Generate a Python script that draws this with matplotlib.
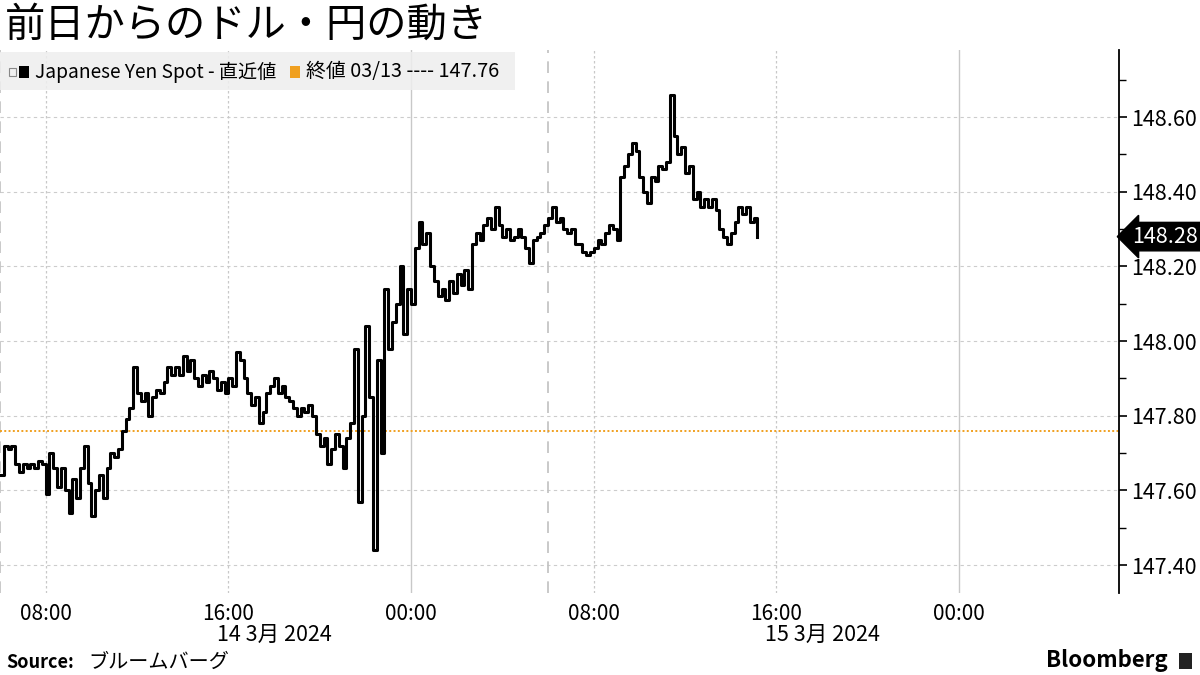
import numpy as np
import pandas as pd
import matplotlib
matplotlib.use('Agg')
import matplotlib.pyplot as plt
import matplotlib.dates as mdates
from matplotlib.patches import Rectangle
from matplotlib.transforms import blended_transform_factory

plt.rcParams['font.family'] = ['Noto Sans CJK JP', 'DejaVu Sans']

# USD/JPY spot, 10 minute steps from 2024-03-14 06:00
yen = [
    147.64, 147.72, 147.71, 147.72, 147.67, 147.65, 147.67, 147.66, 147.67, 147.66,
    147.68, 147.67, 147.59, 147.70, 147.66, 147.61, 147.66, 147.60, 147.54, 147.63,
    147.58, 147.66, 147.72, 147.62, 147.53, 147.60, 147.64, 147.58, 147.66, 147.70,
    147.69, 147.71, 147.76, 147.79, 147.82, 147.93, 147.86, 147.84, 147.86, 147.80,
    147.85, 147.87, 147.86, 147.89, 147.93, 147.91, 147.93, 147.91, 147.96, 147.92,
    147.95, 147.90, 147.88, 147.91, 147.89, 147.92, 147.90, 147.87, 147.89, 147.86,
    147.90, 147.88, 147.97, 147.95, 147.90, 147.86, 147.83, 147.85, 147.78, 147.81,
    147.86, 147.88, 147.90, 147.86, 147.88, 147.85, 147.84, 147.82, 147.80, 147.82,
    147.81, 147.83, 147.80, 147.75, 147.72, 147.74, 147.67, 147.71, 147.75, 147.72,
    147.66, 147.74, 147.78, 147.98, 147.57, 147.80, 148.04, 147.85, 147.44, 147.95,
    147.70, 148.14, 147.98, 148.05, 148.10, 148.20, 148.02, 148.14, 148.10, 148.25,
    148.32, 148.26, 148.29, 148.20, 148.16, 148.12, 148.14, 148.11, 148.16, 148.13,
    148.18, 148.15, 148.19, 148.14, 148.26, 148.29, 148.27, 148.31, 148.33, 148.30,
    148.36, 148.31, 148.28, 148.30, 148.27, 148.28, 148.30, 148.28, 148.25, 148.21,
    148.27, 148.28, 148.29, 148.31, 148.33, 148.36, 148.32, 148.33, 148.30, 148.29,
    148.30, 148.26, 148.26, 148.24, 148.23, 148.24, 148.25, 148.27, 148.26, 148.29,
    148.31, 148.30, 148.27, 148.44, 148.47, 148.50, 148.53, 148.51, 148.44, 148.40,
    148.37, 148.44, 148.43, 148.47, 148.46, 148.48, 148.66, 148.55, 148.50, 148.52,
    148.45, 148.47, 148.38, 148.40, 148.36, 148.38, 148.36, 148.38, 148.35, 148.30,
    148.28, 148.26, 148.29, 148.32, 148.36, 148.34, 148.36, 148.32, 148.33, 148.28,
]
prev_close = 147.76
yticks = [147.40, 147.60, 147.80, 148.00, 148.20, 148.40, 148.60]
time_ticks = pd.date_range('2024-03-14 08:00', '2024-03-16 00:00', freq='8h')
session_lines = pd.to_datetime(['2024-03-14 06:00', '2024-03-15 06:00'])
date_labels = ['14 3月 2024', '15 3月 2024']
date_pos = pd.to_datetime(['2024-03-14 18:00', '2024-03-15 18:00'])

times = pd.date_range('2024-03-14 06:00', periods=len(yen), freq='10min')

fig = plt.figure(figsize=(12, 6.75), dpi=100)
ax = fig.add_axes([0, 1 - 593 / 675, 1119 / 1200, 543 / 675])

for t in time_ticks:
    if t.hour == 0:
        ax.axvline(t, color='#c8c8c8', lw=1.0, zorder=1)
    else:
        ax.axvline(t, color='#c8c8c8', lw=0.9, ls=(0, (2, 2)), zorder=1)
for t in session_lines:
    ax.axvline(t, color='#c0c0c0', lw=1.2, ls=(0, (7, 5)), zorder=1)
ax.grid(axis='y', ls=(0, (3, 3)), color='#cccccc', lw=0.8)
ax.set_axisbelow(True)

ax.axhline(prev_close, color='#f0a020', ls=(0, (1, 1.2)), lw=1.4, zorder=2)
ax.step(times, yen, where='post', color='black', lw=2.2, zorder=3)

ax.set_xlim(pd.Timestamp('2024-03-14 06:00'), pd.Timestamp('2024-03-16 07:00'))
ax.set_ylim(147.325, 148.78)

ax.yaxis.tick_right()
ax.set_yticks(yticks)
ax.set_yticklabels([f'{v:.2f}' for v in yticks])
ax.set_yticks(np.arange(147.5, 148.8, 0.2), minor=True)
ax.tick_params(axis='y', which='major', length=6, width=1.2, labelsize=15.5, pad=3)
ax.tick_params(axis='y', which='minor', length=5, width=1.0)

ax.set_xticks(time_ticks)
ax.xaxis.set_major_formatter(mdates.DateFormatter('%H:%M'))
ax.tick_params(axis='x', length=0, labelsize=15, pad=7)

for s in ['left', 'top', 'bottom']:
    ax.spines[s].set_visible(False)
ax.spines['right'].set_linewidth(1.3)

tr = blended_transform_factory(ax.transData, ax.transAxes)
for p, lab in zip(date_pos, date_labels):
    ax.text(p, -0.078, lab, transform=tr, ha='center', va='center', fontsize=15.5)

# last price tag
tr2 = blended_transform_factory(ax.transAxes, ax.transData)
ax.text(1.012, yen[-1], f'{yen[-1]:.2f}', transform=tr2, ha='left', va='center',
        color='white', fontsize=15.5,
        bbox=dict(boxstyle='larrow,pad=0.15', fc='black', ec='black'), clip_on=False)

# title
fig.text(5 / 1200, 1 - 25 / 675, '前日からのドル・円の動き', fontsize=29, va='center', ha='left')

# legend box
fig.patches.append(Rectangle((0, 1 - 90 / 675), 515 / 1200, 38 / 675, transform=fig.transFigure,
                             fc='#eeeeee', alpha=0.85, ec='none', zorder=5))
fig.patches.append(Rectangle((9 / 1200, 1 - 76 / 675), 7 / 1200, 8 / 675, transform=fig.transFigure,
                             fc='none', ec='#888888', lw=0.8, zorder=6))
fig.patches.append(Rectangle((19 / 1200, 1 - 78 / 675), 10 / 1200, 12 / 675, transform=fig.transFigure,
                             fc='black', ec='none', zorder=6))
fig.text(35 / 1200, 1 - 72 / 675, 'Japanese Yen Spot - 直近値', fontsize=13.8, va='center', zorder=6)
fig.patches.append(Rectangle((290 / 1200, 1 - 78 / 675), 10 / 1200, 12 / 675, transform=fig.transFigure,
                             fc='#f0a020', ec='none', zorder=6))
fig.text(306 / 1200, 1 - 72 / 675, '終値 03/13 ---- 147.76', fontsize=14.3, va='center', zorder=6)

# footer
fig.text(6 / 1200, 1 - 662 / 675, 'Source:', fontsize=13, fontweight='bold', va='center')
fig.text(88 / 1200, 1 - 662 / 675, 'ブルームバーグ', fontsize=14.5, va='center')
fig.text(1168 / 1200, 1 - 661 / 675, 'Bloomberg', fontsize=16, fontweight='bold', va='center', ha='right')
fig.patches.append(Rectangle((1179 / 1200, 1 - 669 / 675), 13 / 1200, 16 / 675, transform=fig.transFigure,
                             fc='#222222', ec='none'))

fig.savefig('out.png', dpi=100)
